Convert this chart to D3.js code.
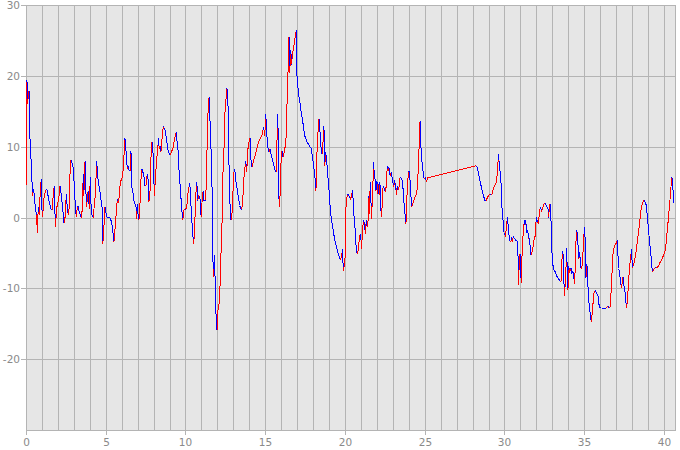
<!DOCTYPE html>
<html><head><meta charset="utf-8">
<script src="https://cdn.jsdelivr.net/npm/d3@7"></script>
<style>
html,body{margin:0;padding:0;background:#fff;}
svg{display:block;}
</style></head>
<body><svg id="chart" width="680" height="450"></svg>
<script>
const xTicks = [0, 5, 10, 15, 20, 25, 30, 35, 40];
const yTicks = [-20, -10, 0, 10, 20, 30];
const xDomain = [0, 40.69];
const yDomain = [-30, 30];

const xValues = [
0.00,0.02,0.06,0.10,0.15,0.19,0.23,0.29,0.35,0.40,0.44,0.48,0.52,0.58,0.63,0.65,0.69,0.71,0.77,0.84,0.90,0.96,1.00,1.04,1.11,1.17,1.23,1.32,1.38,1.44,1.50,1.57,1.65,1.71,1.77,1.84,1.90,1.96,2.03,2.09,2.13,2.19,2.25,2.32,2.38,2.44,2.48,2.53,2.59,2.65,2.71,2.78,2.84,2.90,2.96,3.03,3.09,3.15,3.22,3.28,3.34,3.40,3.47,3.53,3.59,3.63,3.67,3.72,3.78,3.84,3.90,3.97,4.03,4.09,4.15,4.22,4.28,4.34,4.38,4.43,4.47,4.53,4.59,4.66,4.72,4.78,4.80,4.82,4.86,4.91,4.95,5.01,5.07,5.16,5.24,5.30,5.37,5.43,5.47,5.51,5.55,5.62,5.68,5.74,5.80,5.87,5.91,5.99,6.05,6.10,6.14,6.18,6.24,6.30,6.37,6.41,6.47,6.53,6.58,6.64,6.70,6.76,6.83,6.89,6.93,6.99,7.04,7.10,7.14,7.20,7.27,7.33,7.39,7.45,7.52,7.58,7.64,7.70,7.77,7.83,7.87,7.93,8.00,8.04,8.08,8.12,8.16,8.20,8.27,8.31,8.35,8.41,8.46,8.50,8.56,8.62,8.68,8.73,8.79,8.85,8.91,8.98,9.04,9.10,9.16,9.23,9.29,9.35,9.42,9.46,9.52,9.58,9.65,9.71,9.77,9.83,9.90,9.96,10.02,10.08,10.15,
10.27,10.37,10.44,10.48,10.52,10.58,10.65,10.71,10.77,10.83,10.90,10.94,10.98,11.02,11.06,11.11,11.15,11.23,11.27,11.31,11.36,11.42,11.48,11.52,11.59,11.65,11.69,11.73,11.77,11.82,11.86,11.90,11.94,11.98,12.02,12.09,12.15,12.21,12.27,12.32,12.36,12.42,12.46,12.52,12.57,12.63,12.69,12.73,12.78,12.82,12.90,12.98,13.05,13.11,13.15,13.21,13.28,13.34,13.40,13.46,13.53,13.59,13.65,13.71,13.78,13.84,13.90,13.97,14.05,14.11,14.17,14.24,14.30,14.36,14.42,14.49,14.55,14.61,14.67,14.76,14.84,14.88,14.93,14.97,15.03,15.07,15.11,15.18,15.22,15.26,15.30,15.36,15.43,15.49,15.55,15.61,15.68,15.72,15.76,15.80,15.84,15.91,15.95,16.01,16.05,16.12,16.18,16.24,16.30,16.37,16.41,16.45,16.49,16.53,16.60,16.66,16.70,16.76,16.83,16.89,16.95,16.99,17.08,17.14,17.20,17.26,17.33,17.39,17.45,17.51,17.58,17.64,17.70,17.76,17.83,17.89,17.95,18.02,18.08,18.14,18.18,18.22,18.31,18.37,18.43,18.50,18.56,18.62,18.68,18.73,18.79,18.85,18.91,18.98,19.04,19.10,19.16,19.23,19.29,19.35,19.41,19.48,19.54,19.60,19.66,19.73,19.77,19.81,19.85,19.89,19.94,20.00,20.04,20.10,20.17,20.23,20.29,20.35,20.42,20.48,20.54,
20.66,20.70,20.77,20.83,20.89,20.95,21.00,21.04,21.10,21.16,21.23,21.27,21.31,21.35,21.39,21.44,21.50,21.54,21.58,21.62,21.66,21.71,21.75,21.79,21.85,21.89,21.94,21.98,22.02,22.06,22.10,22.14,22.19,22.23,22.29,22.33,22.37,22.42,22.48,22.54,22.58,22.63,22.67,22.71,22.75,22.79,22.83,22.90,22.94,22.98,23.02,23.06,23.11,23.15,23.19,23.23,23.27,23.31,23.36,23.40,23.44,23.50,23.56,23.61,23.65,23.69,23.73,23.77,23.82,23.86,23.90,23.94,23.98,24.02,24.07,24.11,24.15,24.19,24.25,24.32,24.38,24.44,24.50,24.55,24.59,24.63,24.67,24.71,24.75,24.80,24.86,24.90,24.94,24.98,25.05,25.11,25.17,28.22,28.28,28.35,28.41,28.47,28.53,28.60,28.66,28.72,28.78,28.85,28.89,28.95,29.01,29.08,29.14,29.20,29.26,29.33,29.39,29.45,29.51,29.58,29.62,29.68,29.72,29.79,29.83,29.87,29.91,29.95,30.02,30.06,30.10,30.14,30.18,30.22,30.27,30.33,30.39,30.45,30.50,30.54,30.58,30.64,30.70,30.77,30.83,
30.89,30.93,31.00,31.02,31.06,31.10,31.14,31.20,31.25,31.29,31.33,31.37,31.41,31.46,31.50,31.54,31.58,31.62,31.66,31.71,31.75,31.81,31.87,31.91,31.96,32.00,32.04,32.08,32.12,32.16,32.21,32.25,32.29,32.33,32.37,32.42,32.48,32.54,32.60,32.67,32.73,32.77,32.81,32.85,32.90,32.94,33.00,33.06,33.13,33.19,33.25,33.31,33.38,33.46,33.52,33.56,33.61,33.65,33.69,33.73,33.77,33.81,33.86,33.90,33.94,33.98,34.02,34.06,34.11,34.15,34.19,34.23,34.27,34.34,34.38,34.42,34.46,34.50,34.54,34.59,34.63,34.67,34.71,34.75,34.80,34.86,34.90,34.94,34.98,35.03,35.07,35.11,35.15,35.19,35.23,35.28,35.32,35.36,35.40,35.44,35.48,35.53,35.57,35.61,35.65,35.69,35.73,35.80,35.86,35.90,35.94,36.01,36.09,36.17,36.26,36.34,36.42,36.49,36.55,36.61,36.65,36.70,36.74,36.78,36.82,36.86,36.92,36.99,37.03,37.07,37.11,37.15,37.20,37.24,37.28,37.32,37.36,37.40,37.45,37.49,37.53,37.57,37.61,37.66,37.70,37.74,37.78,37.82,37.86,37.91,37.95,37.99,38.03,38.07,38.11,38.16,38.20,38.26,38.32,38.39,38.45,38.51,38.57,38.64,38.70,38.76,38.80,38.85,38.89,38.93,38.99,39.05,39.12,39.18,39.24,39.28,39.35,39.41,39.47,39.53,39.60,39.66,39.72,39.78,39.85,39.91,39.97,40.04,40.10,40.16,40.22,40.29,40.35,40.41,40.45,40.49,40.54,40.58,40.62
];

const yValues = [
6.4,4.6,19.4,16.0,17.4,17.9,12.2,9.0,7.2,3.1,3.6,4.0,3.1,1.5,0.75,-1.0,0.3,-2.2,1.5,0.4,4.3,5.4,1.2,0.0,2.4,3.3,3.9,3.9,3.1,2.4,1.8,1.2,1.1,3.3,4.5,-1.3,0.5,1.9,2.4,3.3,4.5,3.6,2.4,0.75,-0.8,-0.3,1.5,3.3,1.2,0.4,1.5,8.0,8.1,7.5,7.0,4.4,1.7,0.05,1.6,1.5,0.75,0.4,0.0,1.2,6.2,3.0,7.9,8.0,1.5,2.4,3.8,1.2,5.7,0.75,0.3,0.0,1.7,3.1,5.0,8.0,6.6,5.0,4.3,3.3,2.2,1.2,-3.1,-3.7,-1.8,-0.7,1.5,0.75,0.05,0.05,0.0,-0.2,-0.7,-1.6,-2.5,-3.5,-2.3,-0.7,1.7,2.6,2.0,3.6,5.0,5.4,5.7,7.1,8.5,11.2,10.8,8.0,6.8,7.2,6.6,6.6,9.4,4.3,3.6,2.4,1.9,1.9,-0.2,1.9,-0.3,-0.2,1.5,5.2,6.8,6.4,5.9,4.5,4.5,5.9,6.1,2.2,3.3,8.0,10.7,10.6,7.5,3.1,4.3,5.9,7.1,8.3,10.1,11.2,9.7,10.1,9.2,10.4,12.0,12.9,12.7,12.2,11.3,10.4,9.5,9.0,8.8,9.2,9.5,9.9,10.8,11.5,12.1,10.9,10.0,7.1,5.0,3.0,1.0,-0.3,1.1,1.2,1.2,1.5,3.4,
4.9,0.5,-1.9,-3.0,-3.7,-0.9,3.3,5.0,2.4,3.1,2.9,1.7,0.1,1.5,3.1,3.8,2.4,2.4,2.4,6.1,10.4,15.4,17.0,14.8,10.4,6.1,0.05,-7.2,-8.4,-5.3,-9.1,-12.8,-15.2,-15.9,-13.3,-12.6,-10.7,-6.0,-2.3,1.5,7.5,10.1,14.6,15.8,18.3,18.0,14.3,7.1,2.9,-0.4,-0.2,3.8,6.8,6.4,5.2,4.5,3.3,2.6,1.7,1.2,1.2,2.4,5.2,6.8,8.0,6.4,9.4,10.6,11.2,8.0,7.1,7.8,8.3,8.7,9.2,9.9,10.4,10.8,11.1,11.5,11.8,12.8,12.3,11.5,14.6,13.2,11.3,9.7,9.2,9.4,9.7,9.0,8.4,7.8,7.2,6.7,6.4,8.0,14.6,12.7,3.1,1.5,5.2,9.0,9.4,8.5,9.2,9.9,11.1,16.5,19.0,22.8,25.5,20.4,23.6,21.6,23.4,23.6,24.7,25.8,26.4,20.0,17.6,16.7,15.8,14.8,13.9,12.9,11.8,11.3,10.9,10.6,10.4,10.1,10.0,9.7,8.6,7.6,6.4,5.2,3.8,8.0,12.2,13.9,12.2,9.9,9.0,10.6,12.9,7.3,9.2,8.2,6.1,4.5,2.4,0.7,-0.4,-1.4,-2.3,-3.0,-3.7,-4.3,-4.9,-5.3,-5.7,-6.0,-5.5,-5.1,-4.5,-7.5,-6.9,-6.0,0.75,2.6,3.3,3.1,2.9,2.5,3.3,3.9,0.8,
-2.3,-4.4,-5.2,-4.6,-3.2,-2.3,-3.1,-4.4,-1.6,-0.4,-0.9,-2.3,-1.1,-0.4,-1.4,-0.7,3.1,0.5,5.0,2.9,-0.2,2.4,4.7,7.9,5.6,5.4,3.7,5.1,3.3,5.0,3.8,3.2,5.0,1.7,0.05,1.7,4.0,4.5,3.8,3.6,4.4,6.4,7.3,6.6,7.1,6.4,5.9,6.4,5.9,5.2,4.7,4.3,5.3,4.7,4.0,3.2,4.4,3.9,3.9,4.5,5.6,5.6,5.4,5.2,3.6,2.4,1.2,0.3,-0.9,1.5,3.8,5.2,6.6,6.5,5.4,4.3,2.4,1.5,1.9,2.4,2.8,3.1,3.3,5.2,6.5,8.7,12.5,13.6,10.4,8.5,7.1,6.4,5.6,5.4,5.7,5.0,5.6,7.3,7.1,6.5,5.8,5.1,4.5,3.8,3.2,2.8,2.4,2.4,2.6,2.9,3.1,3.3,3.2,3.2,3.8,4.2,4.5,4.7,5.3,7.3,8.9,7.5,6.6,4.7,1.9,0.3,-0.4,-2.1,-2.3,-2.7,-1.8,-0.8,0.0,-0.9,-2.3,-3.2,-3.5,-2.8,-3.5,-2.7,-2.8,-3.0,-3.2,-3.3,-3.6,
-9.6,-5.3,-5.1,-8.2,-9.2,-5.3,-3.2,-1.4,-0.3,-1.1,-0.4,-1.6,-2.2,-1.8,-3.0,-2.9,-3.5,-4.4,-5.3,-5.1,-4.5,-3.9,-2.9,-2.8,-1.1,0.0,-0.7,-0.4,-0.9,0.0,1.0,1.5,1.2,0.75,1.2,1.5,1.9,2.0,1.8,1.5,1.2,0.0,1.5,1.9,1.7,-3.7,-5.8,-7.2,-7.5,-7.7,-8.2,-8.4,-8.6,-8.9,-9.1,-8.9,-5.6,-4.7,-5.7,-9.3,-11.1,-9.0,-6.8,-4.3,-8.4,-10.2,-6.8,-7.9,-7.1,-7.5,-7.2,-7.9,-7.5,-8.2,-9.4,-7.9,-5.1,-2.1,-1.8,-3.5,-4.4,-5.8,-4.9,-6.0,-7.2,-6.8,-5.6,-4.4,-2.4,-1.4,-4.4,-8.5,-6.5,-7.2,-9.6,-11.9,-12.4,-13.3,-14.0,-14.7,-14.0,-12.6,-11.7,-10.7,-10.4,-10.3,-10.5,-10.8,-11.0,-11.7,-12.6,-12.7,-12.8,-12.8,-12.8,-12.8,-12.7,-12.5,-12.7,-12.8,-11.7,-9.8,-7.9,-6.0,-4.6,-4.3,-3.9,-3.7,-3.5,-3.2,-5.1,-7.2,-7.5,-8.3,-8.9,-10.0,-9.6,-8.6,-8.4,-9.6,-10.3,-10.7,-11.9,-12.8,-11.7,-10.5,-9.3,-7.5,-6.5,-5.8,-4.5,-5.8,-7.1,-6.9,-6.5,-6.0,-5.6,-4.6,-3.5,-2.3,-1.1,0.05,1.2,2.0,2.3,2.4,2.2,2.0,1.7,0.75,-0.7,-2.3,-3.9,-5.3,-6.9,-7.7,-7.4,-7.1,-7.1,-7.1,-7.0,-6.8,-6.5,-6.2,-6.0,-5.7,-5.3,-5.0,-4.3,-3.0,-1.4,0.1,1.9,3.3,4.7,5.7,5.0,3.3,2.0
];

const COLORS = { up: '#ff0000', down: '#0000ff', bg: '#e6e6e6', grid: '#b4b4b4', text: '#8a8a8a' };

const svg = d3.select('#chart');
const pLeft = 26, pRight = 675, pTop = 5, pBottom = 430;
const x = d3.scaleLinear().domain(xDomain).range([pLeft, pRight]);
const y = d3.scaleLinear().domain(yDomain).range([pBottom, pTop]);
const snap = v => Math.round(v) + 0.5;
const fmt = d => String(d);

svg.append('rect').attr('x', pLeft).attr('y', pTop)
  .attr('width', pRight - pLeft).attr('height', pBottom - pTop)
  .attr('fill', COLORS.bg);

const grid = svg.append('g').attr('stroke', COLORS.grid).attr('stroke-width', 1).attr('shape-rendering', 'crispEdges');
grid.selectAll('line.vx').data(d3.range(0, 41, 1)).join('line')
  .attr('x1', d => snap(x(d))).attr('x2', d => snap(x(d)))
  .attr('y1', pTop).attr('y2', pBottom);
grid.selectAll('line.hy').data(d3.range(-30, 31, 10)).join('line')
  .attr('x1', pLeft).attr('x2', pRight)
  .attr('y1', d => snap(y(d))).attr('y2', d => snap(y(d)));
grid.append('line').attr('x1', snap(pRight)).attr('x2', snap(pRight)).attr('y1', pTop).attr('y2', pBottom + 0.5);

const xAxis = d3.axisBottom(x).tickValues(xTicks).tickSize(5).tickPadding(4).tickFormat(fmt);
const yAxis = d3.axisLeft(y).tickValues(yTicks).tickSize(5).tickPadding(1).tickFormat(fmt);

const gx = svg.append('g').attr('transform', `translate(0,${Math.round(pBottom)})`).call(xAxis);
const gy = svg.append('g').attr('transform', `translate(${pLeft},0)`).call(yAxis);
[gx, gy].forEach(g => {
  g.select('.domain').remove();
  g.selectAll('.tick line').attr('stroke', COLORS.grid).attr('shape-rendering', 'crispEdges');
  g.selectAll('.tick text').attr('fill', COLORS.text)
    .style('font-family', '"DejaVu Sans", sans-serif').style('font-size', '10.5px');
});
gx.selectAll('.tick').attr('transform', d => `translate(${snap(x(d))},0)`);
gy.selectAll('.tick').attr('transform', d => `translate(0,${snap(y(d))})`);

const pts = xValues.map((v, i) => [v, yValues[i]]);
svg.append('g').attr('stroke-width', 1).attr('shape-rendering', 'crispEdges')
  .selectAll('line').data(d3.pairs(pts)).join('line')
  .attr('x1', d => x(d[0][0])).attr('y1', d => y(d[0][1]))
  .attr('x2', d => x(d[1][0])).attr('y2', d => y(d[1][1]))
  .attr('stroke', d => d[1][1] > d[0][1] ? COLORS.up : COLORS.down);
</script>
</body></html>
